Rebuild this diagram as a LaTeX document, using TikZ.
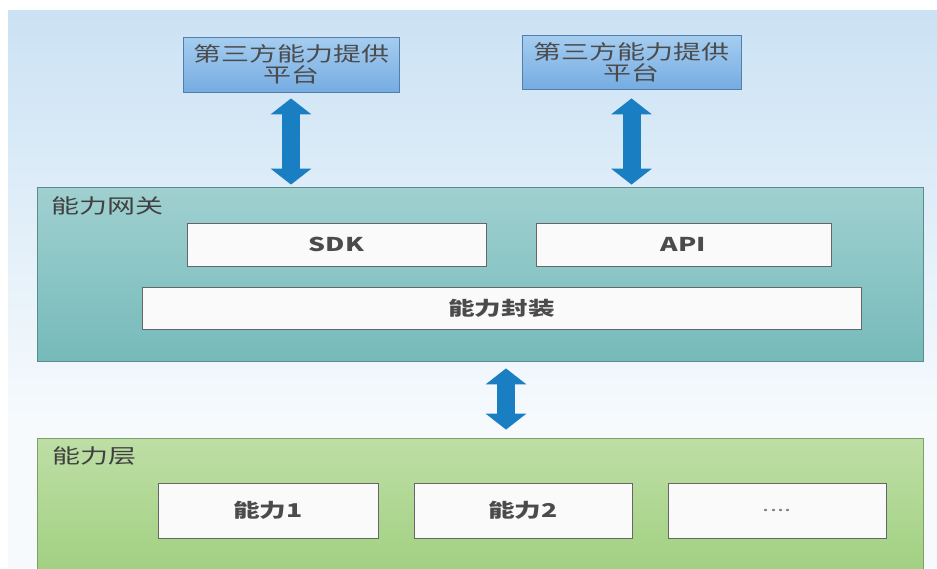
\documentclass[tikz,border=0pt]{standalone}
\usepackage{fontspec}
\setmainfont{Noto Sans CJK SC}[FakeStretch=1.4]
\usetikzlibrary{arrows.meta,shadows}

\definecolor{skytop}{RGB}{203,226,244}
\definecolor{skybot}{RGB}{246,250,253}
\definecolor{tptop}{RGB}{165,205,240}
\definecolor{tpbot}{RGB}{118,172,226}
\definecolor{tpline}{RGB}{85,125,165}
\definecolor{gwtop}{RGB}{160,208,208}
\definecolor{gwbot}{RGB}{118,186,186}
\definecolor{gwline}{RGB}{90,140,140}
\definecolor{captop}{RGB}{190,222,165}
\definecolor{capbot}{RGB}{160,208,128}
\definecolor{capline}{RGB}{125,160,105}
\definecolor{arrowblue}{RGB}{26,126,195}
\definecolor{txtgray}{RGB}{75,75,75}

\tikzset{
  tpbox/.style={draw=tpline, top color=tptop, bottom color=tpbot, align=center,
    text=txtgray, font=\fontsize{10}{10.5}\selectfont, inner sep=0pt},
  layerbox/.style={draw=#1line, top color=#1top, bottom color=#1bot, inner sep=0pt},
  innerbox/.style={draw=gray!80!black, fill=white!96!gray, text=txtgray,
    font=\bfseries\fontsize{9.5}{10}\selectfont, inner sep=0pt,
    drop shadow={shadow xshift=0.6pt, shadow yshift=-0.6pt, opacity=0.35}},
  layertitle/.style={anchor=base west, text=black!75, font=\fontsize{10}{10}\selectfont, inner sep=0pt},
  bigarrow/.style={arrowblue, line width=9pt,
    {Triangle[width=20pt,length=8pt]}-{Triangle[width=20pt,length=8pt]}},
}

\begin{document}
\begin{tikzpicture}[x=0.5pt,y=-0.5pt]
  \useasboundingbox (0,0) rectangle (937,568);
  \fill[white] (0,0) rectangle (937,568);
  \shade[top color=skytop, bottom color=skybot] (8,10) rectangle (937,420);
  \fill[skybot] (8,420) rectangle (937,568);

  % third party platforms
  \node[tpbox, minimum width=108pt, minimum height=27.5pt] (tp1) at (291,64.5) {第三方能力提供\\平台};
  \node[tpbox, minimum width=109.5pt, minimum height=27pt] (tp2) at (631.5,62) {第三方能力提供\\平台};

  % gateway
  \node[layerbox=gw, minimum width=443pt, minimum height=87pt] (gw) at (480,274) {};
  \node[layertitle] (gwtitle) at (51,213) {能力网关};
  \node[innerbox, minimum width=149.5pt, minimum height=21.5pt] (sdk) at (336.5,244.5) {SDK};
  \node[innerbox, minimum width=147.5pt, minimum height=21.5pt] (api) at (683.5,244.5) {API};
  \node[innerbox, minimum width=359.5pt, minimum height=21pt] (wrap) at (501.5,308) {能力封装};

  % capability layer
  \node[layerbox=cap, minimum width=443pt, minimum height=70pt] (cap) at (480,508) {};
  \node[layertitle] (captitle) at (52,463) {能力层};
  \node[innerbox, minimum width=110pt, minimum height=27.5pt] (c1) at (268,510.5) {能力1};
  \node[innerbox, minimum width=109pt, minimum height=27.5pt] (c2) at (523,510.5) {能力2};
  \node[innerbox, minimum width=109pt, minimum height=27.5pt, text=gray,
    font=\fontsize{9}{9}\selectfont] (c3) at (777,510.5) {....};

  % arrows
  \coordinate (mid) at (506,0);
  \draw[bigarrow, shorten <=3pt, shorten >=1pt] (tp1.south) -- (tp1.south |- gw.north);
  \draw[bigarrow, shorten <=4.5pt, shorten >=1pt] (tp2.south) -- (tp2.south |- gw.north);
  \draw[bigarrow, shorten <=3.5pt, shorten >=4pt] (gw.south -| mid) -- (cap.north -| mid);
\end{tikzpicture}
\end{document}
